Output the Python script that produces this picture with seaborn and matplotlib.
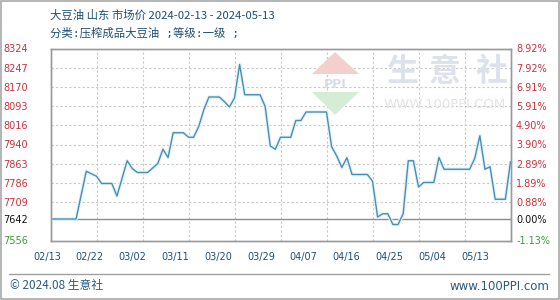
import matplotlib
matplotlib.use("Agg")
import matplotlib.pyplot as plt
from matplotlib.patches import Polygon, Rectangle
from matplotlib.lines import Line2D
import seaborn as sns
import pandas as pd

# ---------------- data ----------------
dates = ['2024-02-13', '2024-02-18', '2024-02-20', '2024-02-22', '2024-02-23', '2024-02-25',
         '2024-02-26', '2024-02-28', '2024-02-29', '2024-03-01', '2024-03-03', '2024-03-05',
         '2024-03-06', '2024-03-07', '2024-03-08', '2024-03-10', '2024-03-11', '2024-03-12',
         '2024-03-13', '2024-03-14', '2024-03-15', '2024-03-17', '2024-03-18', '2024-03-19',
         '2024-03-20', '2024-03-21', '2024-03-22', '2024-03-25', '2024-03-26', '2024-03-27',
         '2024-03-28', '2024-03-29', '2024-03-31', '2024-04-01', '2024-04-02', '2024-04-03',
         '2024-04-07', '2024-04-08', '2024-04-09', '2024-04-10', '2024-04-11', '2024-04-12',
         '2024-04-15', '2024-04-16', '2024-04-17', '2024-04-18', '2024-04-19', '2024-04-20',
         '2024-04-21', '2024-04-22', '2024-04-23', '2024-04-24', '2024-04-25', '2024-04-26',
         '2024-04-28', '2024-04-29', '2024-04-30', '2024-05-05', '2024-05-06', '2024-05-07',
         '2024-05-08', '2024-05-09', '2024-05-10', '2024-05-12', '2024-05-13']
prices = [7642, 7642, 7833, 7813, 7784, 7784, 7734, 7875, 7844, 7828,
          7828, 7864, 7921, 7888, 7987, 7987, 7969, 7969, 8012, 8079,
          8130, 8130, 8112, 8090, 8126, 8260, 8139, 8139, 8092, 7934,
          7921, 7969, 7969, 8036, 8036, 8070, 8070, 7931, 7894, 7848,
          7887, 7820, 7820, 7793, 7650, 7663, 7663, 7620, 7620, 7663,
          7875, 7875, 7770, 7788, 7788, 7888, 7841, 7841, 7884, 7975,
          7841, 7851, 7721, 7721, 7871]

base_price = 7642
y_ticks = [7556, 7642, 7709.6, 7786.4, 7863.2, 7940, 8016.8, 8093.6, 8170.4, 8247.2, 8324]
y_labels = ['7556', '7642', '7709', '7786', '7863', '7940', '8016', '8093', '8170', '8247', '8324']
pct_labels = ['-1.13%', '0.00%', '0.88%', '1.89%', '2.89%', '3.90%', '4.90%', '5.91%', '6.91%', '7.92%', '8.92%']
x_tick_dates = ['2024-02-13', '2024-02-22', '2024-03-02', '2024-03-11', '2024-03-20', '2024-03-29',
                '2024-04-07', '2024-04-16', '2024-04-25', '2024-05-04', '2024-05-13']
x_labels = ['02/13', '02/22', '03/02', '03/11', '03/20', '03/29', '04/07', '04/16', '04/25', '05/04', '05/13']

title1 = '大豆油 山东 市场价 2024-02-13 - 2024-05-13'
title2 = '分类:压榨成品大豆油 ;等级:一级 ;'
footer_left = '© 2024.08 生意社'
footer_right = 'www.100PPI.com'

# ---------------- style ----------------
sns.set_theme(style='white')
plt.rcParams['font.family'] = ['Noto Sans CJK SC', 'DejaVu Sans']

W, H = 560, 300
fig = plt.figure(figsize=(W / 100, H / 100), dpi=100)
fig.patch.set_facecolor('white')

def fx(px):
    return px / W

def fy(py):
    return 1 - py / H

ax = fig.add_axes([fx(50.5), fy(240.5), (510.5 - 50.5) / W, (240.5 - 48.5) / H])

df = pd.DataFrame({'date': pd.to_datetime(dates), 'price': prices})

# watermark (behind data)
wm_color = '#dde2ea'
for ch, px in zip('生意社', [402, 445, 492]):
    fig.text(fx(px), fy(72), ch, fontsize=23, color=wm_color, ha='center', va='center',
             family=['Noto Sans CJK SC'], fontweight='bold', zorder=0)
fig.text(fx(445), fy(105), 'WWW.100PPI.COM', fontsize=9.5, color='#e4e4e4', ha='center',
         va='center', family=['DejaVu Sans'], zorder=0)
fig.patches.append(Polygon([[fx(312), fy(74)], [fx(335), fy(52)], [fx(359), fy(74)]],
                           closed=True, transform=fig.transFigure, facecolor='#f4d0cc',
                           edgecolor='none', zorder=0))
fig.patches.append(Polygon([[fx(312), fy(92)], [fx(335), fy(115)], [fx(359), fy(92)]],
                           closed=True, transform=fig.transFigure, facecolor='#d5ecd5',
                           edgecolor='none', zorder=0))
fig.text(fx(335), fy(84), 'PPI', fontsize=9, color='#d7dde8', ha='center', va='center',
         family=['DejaVu Sans'], fontweight='bold', zorder=0)
ax.patch.set_alpha(0)

# grid lines
for t in y_ticks:
    if t == base_price:
        ax.axhline(t, color='#8c8c8c', lw=1.0, zorder=2)
    elif t not in (y_ticks[0], y_ticks[-1]):
        ax.axhline(t, color='#c8c8c8', lw=0.8, ls=(0, (2, 2)), zorder=1)
xt = pd.to_datetime(x_tick_dates)
for d in xt[1:-1]:
    ax.axvline(d, color='#c8c8c8', lw=0.8, ls=(0, (2, 2)), zorder=1)

# line with soft halo
sns.lineplot(data=df, x='date', y='price', ax=ax, color='#e2f4fa', linewidth=2.6, zorder=3)
sns.lineplot(data=df, x='date', y='price', ax=ax, color='#4a8db2', linewidth=1.0, zorder=4)

ax.set_xlim(xt[0], xt[-1])
ax.set_ylim(y_ticks[0], y_ticks[-1])
ax.set_xlabel('')
ax.set_ylabel('')
ax.set_xticks(xt)
ax.set_xticklabels([])
ax.tick_params(axis='x', length=0)

def label_color(v):
    if v > base_price:
        return '#c8323c'
    if v < base_price:
        return '#3a9a3a'
    return '#111111'

ax.set_yticks(y_ticks)
ax.set_yticklabels(y_labels, fontsize=7, family=['DejaVu Sans'])
ax.tick_params(axis='y', length=0, pad=16)
for lab, v in zip(ax.get_yticklabels(), y_ticks):
    lab.set_color(label_color(v))

ax2 = ax.twinx()
ax2.set_ylim(y_ticks[0], y_ticks[-1])
ax2.set_yticks(y_ticks)
ax2.set_yticklabels(pct_labels, fontsize=7, family=['DejaVu Sans'])
ax2.tick_params(axis='y', length=0, pad=4)
for lab, v in zip(ax2.get_yticklabels(), y_ticks):
    lab.set_color(label_color(v))
ax2.grid(False)

for a in (ax, ax2):
    for s in a.spines.values():
        s.set_color('#9a9a9a')
        s.set_linewidth(1.0)

# x labels (slightly compressed positions like the original)
for i, lab in enumerate(x_labels):
    xpos = (-3.5 + 42.8 * i) / 460
    ax.text(xpos, -(257 - 240.5) / 192, lab, transform=ax.transAxes, ha='center',
            va='center', fontsize=7, color='#1d4f74', family=['DejaVu Sans'])

# titles
txt_color = '#1d4f74'
fig.text(fx(50), fy(15), title1, fontsize=8.2, color=txt_color, ha='left', va='center')
fig.text(fx(50), fy(33), title2, fontsize=8.2, color=txt_color, ha='left', va='center',
         family=['DejaVu Sans Mono', 'Noto Sans CJK SC'])

# footer
fig.add_artist(Line2D([fx(9), fx(549)], [fy(274), fy(274)], color='#a0a0a0', lw=1.0,
                      transform=fig.transFigure))
fig.text(fx(10), fy(286), footer_left, fontsize=8.5, color='#2a5b82', ha='left', va='center')
fig.text(fx(549), fy(286), footer_right, fontsize=8.5, color='#2a5b82', ha='right', va='center',
         family=['DejaVu Sans'])

# outer border
fig.patches.append(Rectangle((0.001, 0.002), 0.997, 0.995, transform=fig.transFigure,
                             fill=False, edgecolor='#a8a8a8', lw=1.2, zorder=10))

fig.savefig('out.png', dpi=100, facecolor='white')
